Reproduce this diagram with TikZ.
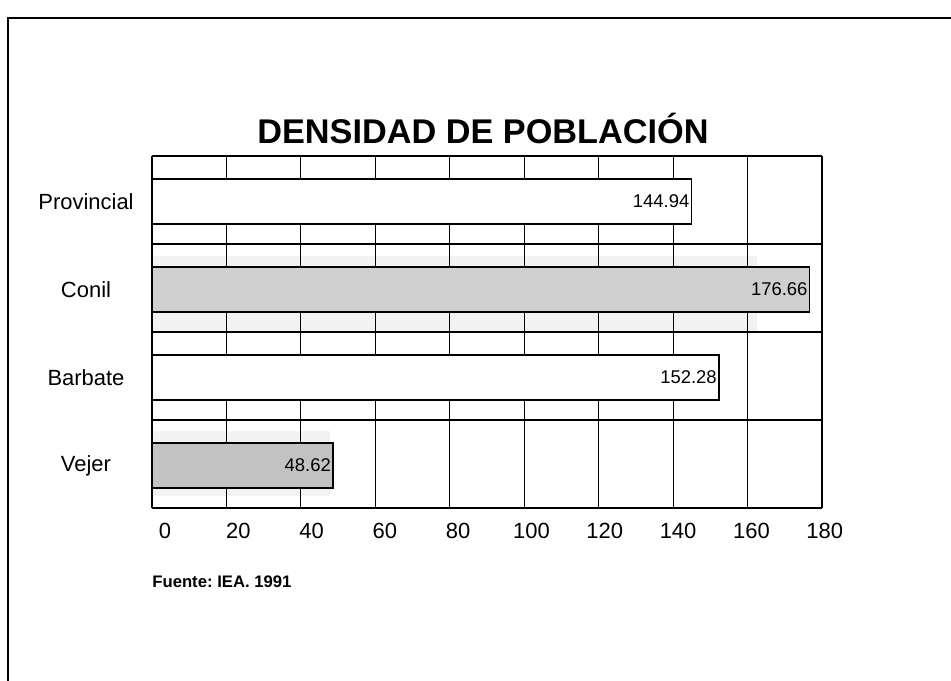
\documentclass[tikz,border=0pt]{standalone}
\usepackage{fontspec}
\setmainfont{Liberation Sans}
\begin{document}
\begin{tikzpicture}[x=0.2mm,y=-0.2mm,
    catlabel/.style={font=\fontsize{12.5}{14}\selectfont},
    vallabel/.style={font=\fontsize{10.5}{12}\selectfont,anchor=east,inner sep=1pt},
    bar/.style={draw,line width=1pt},
    gridline/.style={line width=0.6pt},
    shade/.style={fill=gray!10,draw=none}]
\useasboundingbox (0,0) rectangle (951,681);
% frame of the page
\draw[line width=0.6pt] (951,18) -- (8,18) -- (8,681);
\node[font=\bfseries\fontsize{19.5}{22}\selectfont] (title) at (483,128) {DENSIDAD DE POBLACIÓN};
% faint print shadow round the grey bars
\fill[shade] (152,256) rectangle (757,333);
\fill[shade] (152,431) rectangle (330,496);
% grid
\foreach \i in {0,...,9}
    \draw[gridline] ({152+\i*74.444},156) -- ({152+\i*74.444},508);
\foreach \y in {156,244,332,420,508}
    \draw[gridline] (152,\y) -- (822,\y);
% bars
\foreach \v/\y/\f/\n in {144.94/201.5/white/prov, 176.66/289.5/gray!38/conil, 152.28/377.5/white/barb, 48.62/465.5/gray!48/vejer}{
    \draw[bar,fill=\f] (152,\y-22.5) rectangle ({152+\v*3.7222},\y+22.5);
    \node[vallabel] (val\n) at ({152+\v*3.7222},\y) {\v};
}
% categories
\node[catlabel] (prov) at (86,201.5) {Provincial};
\node[catlabel] (conil) at (86,289.5) {Conil};
\node[catlabel] (barb) at (86,377.5) {Barbate};
\node[catlabel] (vejer) at (86,465.5) {Vejer};
% axis
\foreach \t [count=\k from 0] in {0,20,...,180}
    \node[catlabel] (tick\k) at ({165+\k*73.3},531) {\t};
\node[font=\bfseries\fontsize{9.5}{12}\selectfont,anchor=west,inner sep=0pt] (source) at (152,582) {\frenchspacing Fuente: IEA. 1991};
\end{tikzpicture}
\end{document}
